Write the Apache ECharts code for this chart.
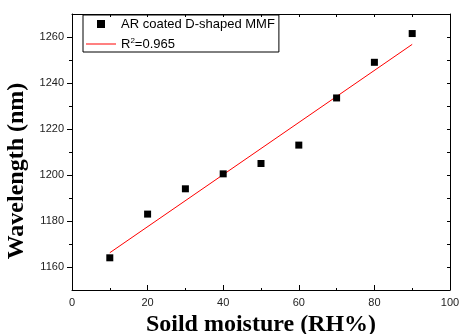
<!DOCTYPE html>
<html>
<head>
<meta charset="utf-8">
<script src="https://cdn.jsdelivr.net/npm/echarts@6/dist/echarts.min.js"></script>
<style>
html,body{margin:0;padding:0;background:#fff;}
#chart{width:459px;height:334px;}
</style>
</head>
<body>
<div id="chart"></div>
<script>
// Data
var moisture = [10, 20, 30, 40, 50, 60, 70, 80, 90];
var wavelength = [1164, 1183, 1194, 1200.5, 1205, 1213, 1233.5, 1249, 1261.5];
var fitX = [10, 90];
var fitY = [1166.2, 1256.8];
var seriesName = 'AR coated D-shaped MMF';
var fitName = 'R2=0.965';
// Tick values
var yLabelTicks = [1160, 1180, 1200, 1220, 1240, 1260];
var yMinorTicks = [1170, 1190, 1210, 1230, 1250];
var yRightTicks = [1160, 1170, 1180, 1190, 1200, 1210, 1220, 1230, 1240, 1250, 1260];

var scatterData = moisture.map(function (x, i) { return [x, wavelength[i]]; });
var fitData = fitX.map(function (x, i) { return [x, fitY[i]]; });

var chart = echarts.init(document.getElementById('chart'), null, {renderer: 'canvas'});
var labelFont = {fontFamily: 'Liberation Sans, Arial, sans-serif', fontSize: 11, color: '#222'};
var titleFont = {fontFamily: 'Liberation Serif, Times New Roman, serif', fontWeight: 'bold', fontSize: 24, color: '#000'};
var blackLine = {lineStyle: {color: '#000', width: 1}};
var plain = function (v) { return String(v); };

chart.setOption({
  animation: false,
  backgroundColor: '#fff',
  grid: {left: 72, right: 9, top: 14, bottom: 44, outerBoundsMode: 'none', containLabel: false},
  legend: {
    orient: 'vertical',
    left: 83,
    top: 15,
    padding: [2, 4, 1, 3],
    borderColor: '#000',
    borderWidth: 1,
    itemWidth: 30,
    itemHeight: 8,
    itemGap: 6,
    itemTextGap: 5,
    symbolKeepAspect: true,
    data: [
      {name: seriesName, icon: 'path://M0 0H10V10H0Z', itemStyle: {color: '#000', opacity: 1}},
      {name: fitName, icon: 'path://M0 0H30V1H0Z', itemStyle: {color: '#ff0000', opacity: 1}}
    ],
    formatter: function (name) {
      if (name === fitName) return '{t|R}{s|2}{t|=0.965}';
      return '{t|' + name + '}';
    },
    textStyle: {
      fontFamily: 'Liberation Sans, Arial, sans-serif', fontSize: 13, color: '#000', lineHeight: 14,
      rich: {
        t: {fontFamily: 'Liberation Sans, Arial, sans-serif', fontSize: 13, color: '#000', lineHeight: 14},
        s: {fontFamily: 'Liberation Sans, Arial, sans-serif', fontSize: 8, color: '#000', lineHeight: 8, verticalAlign: 'top'}
      }
    }
  },
  xAxis: [
    {
      type: 'value', position: 'bottom', min: 0, max: 100, interval: 20,
      name: 'Soild moisture (RH%)', nameLocation: 'middle', nameGap: 20,
      nameTextStyle: titleFont,
      axisLine: blackLine,
      axisTick: {show: true, inside: true, length: 5, lineStyle: {color: '#000'}},
      minorTick: {show: true, splitNumber: 2, length: 2, lineStyle: {color: '#000'}},
      axisLabel: Object.assign({margin: 7, formatter: plain}, labelFont),
      splitLine: {show: false}
    },
    {
      type: 'value', position: 'top', min: 0, max: 100, interval: 10,
      axisLine: blackLine,
      axisTick: {show: true, inside: true, length: 3, lineStyle: {color: '#000'}},
      axisLabel: {show: false},
      splitLine: {show: false}
    }
  ],
  yAxis: [
    {
      type: 'value', position: 'left', min: 1150, max: 1270,
      name: 'Wavelength (nm)', nameLocation: 'middle', nameGap: 37, nameRotate: 90,
      nameTextStyle: Object.assign({padding: [0, 38, 0, 0]}, titleFont),
      axisLine: blackLine,
      axisTick: {show: true, inside: false, length: 5, customValues: yLabelTicks, lineStyle: {color: '#000'}},
      axisLabel: Object.assign({margin: 8, customValues: yLabelTicks, formatter: plain}, labelFont),
      splitLine: {show: false}
    },
    {
      type: 'value', position: 'left', min: 1150, max: 1270, offset: 0,
      axisLine: {show: false},
      axisTick: {show: true, inside: false, length: 3, customValues: yMinorTicks, lineStyle: {color: '#000'}},
      axisLabel: {show: false},
      splitLine: {show: false}
    },
    {
      type: 'value', position: 'right', min: 1150, max: 1270,
      axisLine: blackLine,
      axisTick: {show: true, inside: true, length: 3, customValues: yRightTicks, lineStyle: {color: '#000'}},
      axisLabel: {show: false},
      splitLine: {show: false}
    }
  ],
  series: [
    {
      name: seriesName, type: 'scatter', xAxisIndex: 0, yAxisIndex: 0,
      symbol: 'rect', symbolSize: 7,
      itemStyle: {color: '#000', opacity: 1},
      data: scatterData, z: 3
    },
    {
      name: fitName, type: 'line', xAxisIndex: 0, yAxisIndex: 0,
      symbol: 'none', showSymbol: false,
      lineStyle: {color: '#ff0000', width: 1},
      itemStyle: {color: '#ff0000'},
      data: fitData, z: 2
    }
  ]
});
</script>
</body>
</html>
